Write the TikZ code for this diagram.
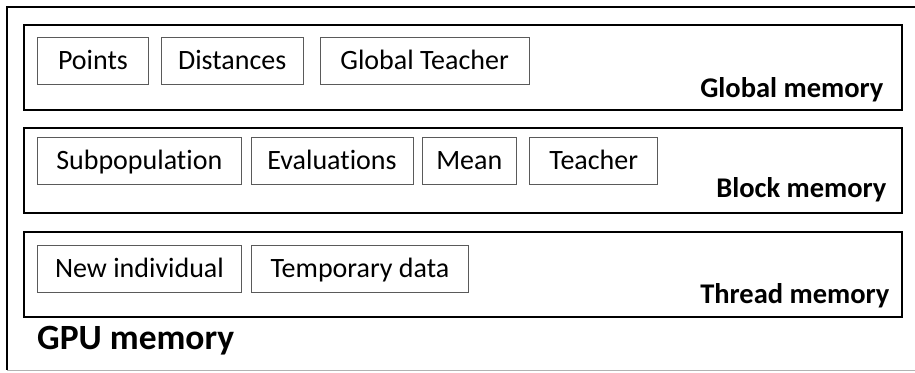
\documentclass[tikz,border=0pt]{standalone}
\usepackage{fontspec}
\setmainfont{Carlito}[Ligatures=NoCommon]
\usetikzlibrary{positioning}
\definecolor{itemgray}{HTML}{5A5A5A}
\tikzset{
    memory/.style={draw,line width=1.6pt,minimum width=878pt,minimum height=85pt,inner sep=0pt},
    item/.style={draw=itemgray,line width=0.9pt,minimum height=47pt,inner sep=0pt,text height=18pt,text depth=0pt,font=\fontsize{28}{34}\selectfont},
    level/.style={anchor=base east,inner sep=0pt,font=\fontsize{28.5}{34}\selectfont\bfseries},
}

\begin{document}
\begin{tikzpicture}[x=1pt,y=-1pt,node distance=16.7pt]
    \useasboundingbox (0,0) rectangle (915,372);
    % outer frame, cut off on the right
    \draw[line width=2.2pt] (925,7) -- (7,7) -- (7,370);
    \draw[gray!60,line width=0.8pt] (7,370) -- (925,370);

    \node[memory,anchor=north west] (global) at (23,24) {};
    \node[memory,below=of global] (block) {};
    \node[memory,below=17.3pt of block] (thread) {};

    \node[item,anchor=north west,minimum width=111pt] (points) at ([xshift=14pt,yshift=-12.7pt]global.north west) {Points};
    \node[item,right=12pt of points,minimum width=141.7pt] (dist) {Distances};
    \node[item,right=16.3pt of dist,minimum width=208.7pt] (gteach) {Global Teacher};

    \node[item,anchor=north west,minimum width=203.7pt] (subpop) at ([xshift=14pt,yshift=-9.3pt]block.north west) {Subpopulation};
    \node[item,right=9pt of subpop,minimum width=162pt] (evals) {Evaluations};
    \node[item,right=8.3pt of evals,minimum width=94pt] (mean) {Mean};
    \node[item,right=12.7pt of mean,minimum width=127.7pt] (teach) {Teacher};

    \node[item,anchor=north west,minimum width=204pt] (newind) at ([xshift=14pt,yshift=-13.4pt]thread.north west) {New individual};
    \node[item,right=8.7pt of newind,minimum width=217.7pt] (tmp) {Temporary data};

    \node[level] (globallbl) at ([xshift=-19pt,yshift=13pt]global.south east) {Global memory};
    \node[level] (blocklbl) at ([xshift=-16pt,yshift=16pt]block.south east) {Block memory};
    \node[level] (threadlbl) at ([xshift=-13pt,yshift=14pt]thread.south east) {Thread memory};
    \node[anchor=base west,inner sep=0pt,font=\fontsize{35.5}{42}\selectfont\bfseries] (gpulbl) at (37,349) {GPU memory};
\end{tikzpicture}
\end{document}
